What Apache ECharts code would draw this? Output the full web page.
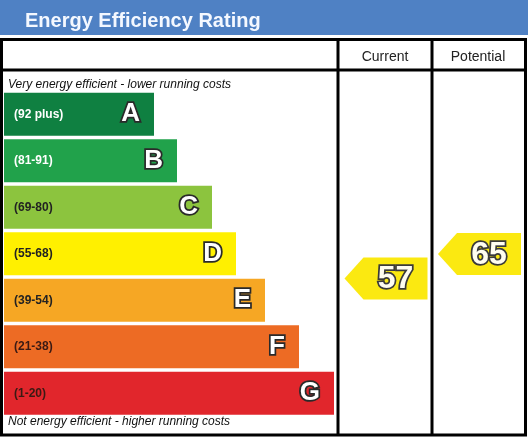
<!DOCTYPE html>
<html>
<head>
<meta charset="utf-8">
<script src="https://cdn.jsdelivr.net/npm/echarts@6/dist/echarts.min.js"></script>
<style>
html,body{margin:0;padding:0;background:#fff;}
#chart{width:528px;height:437px;}
</style>
</head>
<body>
<div id="chart"></div>
<script>
// ---- data ----
const bands = ['A', 'B', 'C', 'D', 'E', 'F', 'G'];
const ranges = ['(92 plus)', '(81-91)', '(69-80)', '(55-68)', '(39-54)', '(21-38)', '(1-20)'];
const barLengths = [150, 173, 208, 232, 261, 295, 330];
const columns = ['Current', 'Potential'];
const ratings = [57, 65];
const titleText = 'Energy Efficiency Rating';
const topNote = 'Very energy efficient - lower running costs';
const bottomNote = 'Not energy efficient - higher running costs';

// ---- styles ----
const bandColors = ['#0f8041', '#21a24b', '#8cc43e', '#fff000', '#f6a724', '#ed6b24', '#e1262c'];
const rangeTextColors = ['#ffffff', '#ffffff', '#222222', '#222222', '#222222', '#3a1a14', '#3a1a14'];
const FONT = '"Liberation Sans", Arial, sans-serif';

const chart = echarts.init(document.getElementById('chart'), null, {renderer: 'canvas'});

const option = {
  animation: false,
  backgroundColor: '#ffffff',
  title: {
    text: titleText,
    left: 20,
    top: 6,
    textStyle: {color: '#f4f8ff', fontSize: 20, fontWeight: 'bold', fontFamily: FONT}
  },
  grid: [
    {left: 4, width: 330, top: 91, height: 325.5},
    {left: 338, width: 187, top: 146.8, bottom: 45.2}
  ],
  xAxis: [
    {gridIndex: 0, type: 'value', min: 0, max: 330, show: false},
    {gridIndex: 1, type: 'category', data: columns, show: false}
  ],
  yAxis: [
    {gridIndex: 0, type: 'category', data: bands, inverse: true, show: false},
    {gridIndex: 1, type: 'value', min: 20, max: 100, show: false}
  ],
  graphic: [
    {type: 'rect', shape: {x: 0, y: 0, width: 528, height: 35}, style: {fill: '#4f81c4'}, z: -1},
    {type: 'rect', shape: {x: 1.5, y: 39.5, width: 524, height: 395.5},
      style: {fill: 'none', stroke: '#000', lineWidth: 3}, z: 10},
    {type: 'line', shape: {x1: 1.5, y1: 70, x2: 525.5, y2: 70}, style: {stroke: '#000', lineWidth: 3}, z: 10},
    {type: 'line', shape: {x1: 338, y1: 39.5, x2: 338, y2: 435}, style: {stroke: '#000', lineWidth: 3}, z: 10},
    {type: 'line', shape: {x1: 432, y1: 39.5, x2: 432, y2: 435}, style: {stroke: '#000', lineWidth: 3}, z: 10},
    {type: 'text', x: 385, y: 57, style: {text: columns[0], align: 'center', verticalAlign: 'middle',
      font: '14px ' + FONT, fill: '#222'}, z: 10},
    {type: 'text', x: 478, y: 57, style: {text: columns[1], align: 'center', verticalAlign: 'middle',
      font: '14px ' + FONT, fill: '#222'}, z: 10},
    {type: 'text', x: 8, y: 85, style: {text: topNote, align: 'left', verticalAlign: 'middle',
      font: 'italic 12px ' + FONT, fill: '#111'}, z: 10},
    {type: 'text', x: 8, y: 422, style: {text: bottomNote, align: 'left', verticalAlign: 'middle',
      font: 'italic 12px ' + FONT, fill: '#111'}, z: 10}
  ],
  series: [
    {
      type: 'bar',
      xAxisIndex: 0, yAxisIndex: 0,
      barWidth: 43,
      data: barLengths.map((v, i) => ({value: v, itemStyle: {color: bandColors[i]}})),
      label: {
        show: true,
        position: 'insideRight',
        distance: 14,
        formatter: p => bands[p.dataIndex],
        color: '#ffffff',
        fontSize: 26,
        fontWeight: 'bold',
        fontFamily: FONT,
        textBorderColor: '#2a2a2a',
        textBorderWidth: 3.5
      }
    },
    {
      type: 'bar',
      xAxisIndex: 0, yAxisIndex: 0,
      barWidth: 43,
      barGap: '-100%',
      itemStyle: {color: 'rgba(0,0,0,0)'},
      data: barLengths.map((v, i) => ({
        value: v,
        label: {color: rangeTextColors[i]}
      })),
      label: {
        show: true,
        position: 'insideLeft',
        distance: 10,
        formatter: p => ranges[p.dataIndex],
        fontSize: 12,
        fontWeight: 'bold',
        fontFamily: FONT
      },
      z: 3
    },
    {
      type: 'custom',
      xAxisIndex: 1, yAxisIndex: 1,
      data: columns.map((c, i) => [i, ratings[i]]),
      renderItem: function (params, api) {
        const c = api.coord([api.value(0), api.value(1)]);
        const bw = api.size([1, 0])[0];
        const left = c[0] - bw / 2 + 6.5;
        const right = c[0] + bw / 2 - 4;
        const h = 42;
        const top = c[1] - h / 2, bot = c[1] + h / 2;
        const tip = 19;
        return {
          type: 'group',
          children: [
            {type: 'polygon', shape: {points: [[left, c[1]], [left + tip, top], [right, top], [right, bot], [left + tip, bot]]},
              style: {fill: '#fbe911'}},
            {type: 'text', z2: 10, style: {text: String(api.value(1)), x: (left + tip + right) / 2, y: c[1] + 1,
              align: 'center', verticalAlign: 'middle', font: 'bold 32px ' + FONT,
              fill: '#fffdf0', stroke: '#3a3a3a', lineWidth: 3.5, strokeFirst: true}}
          ]
        };
      },
      z: 5
    }
  ]
};
chart.setOption(option);
</script>
</body>
</html>
